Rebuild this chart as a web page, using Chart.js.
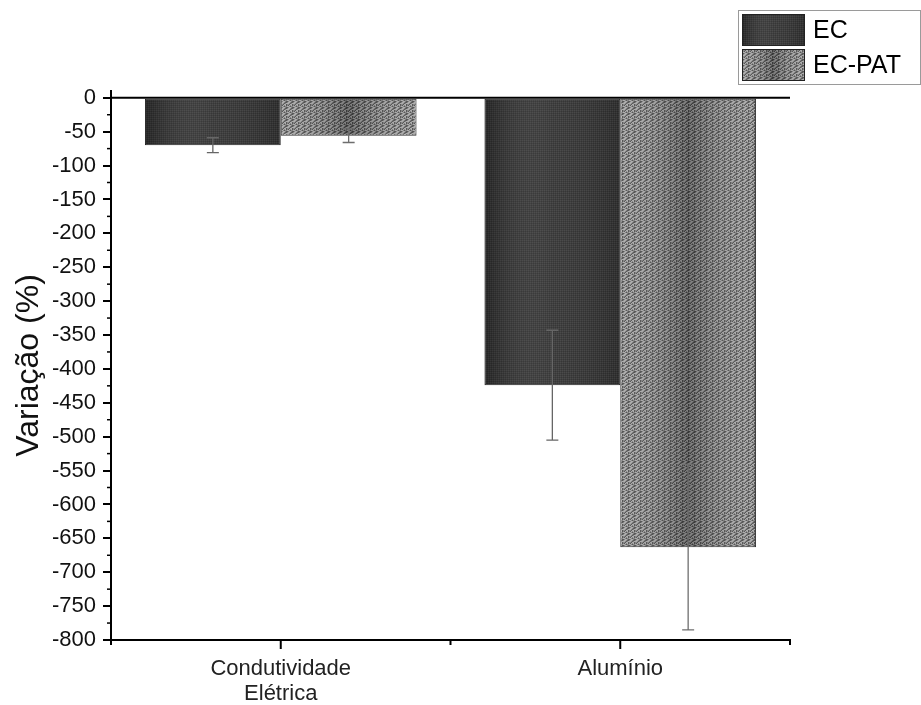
<!DOCTYPE html>
<html>
<head>
<meta charset="utf-8">
<script src="https://cdn.jsdelivr.net/npm/chart.js@4"></script>
<style>
  html, body { margin: 0; padding: 0; background: #fff; }
  canvas { display: block; }
</style>
</head>
<body>
<canvas id="c" width="921" height="705"></canvas>
<script>
// Categories and series
const categories = [['Condutividade', 'Elétrica'], 'Alumínio'];
const seriesNames = ['EC', 'EC-PAT'];
const ecValues = [-70, -424];
const ecErrors = [11, 81];
const ecPatValues = [-56, -663];
const ecPatErrors = [10, 122];
const yTickStep = 50;
const yMinorStep = 25;
const yMin = -800;
const yMax = 10;

const FONT = '"Liberation Sans", Arial, sans-serif';
const canvas = document.getElementById('c');
const ctx = canvas.getContext('2d');

// Stipple textures for the bar fills: rows of a small tile, '.' base, 'd' dark, 'l' light
function makeTexture(rows, colors) {
  const h = rows.length, w = rows[0].length;
  const t = document.createElement('canvas');
  t.width = w; t.height = h;
  const g = t.getContext('2d');
  for (let y = 0; y < h; y++) {
    for (let x = 0; x < w; x++) {
      g.fillStyle = colors[rows[y][x]];
      g.fillRect(x, y, 1, 1);
    }
  }
  return ctx.createPattern(t, 'repeat');
}
const ecFill = makeTexture(
  ['l.l.', '.d.d', 'l.l.', '.d.d'],
  { '.': '#363636', d: '#2c2c2c', l: '#424242' }
);
const patFill = makeTexture(
  ['ll.dd.', 'l.d.ll', '.dlld.', 'dl.ld.', 'l.d..l', '.ll.dd'],
  { '.': '#7c7c7c', d: '#4c4c4c', l: '#a9a9a9' }
);

// Horizontal shading laid over each bar
function shade(c, x0, x1, kind) {
  const g = c.createLinearGradient(x0, 0, x1, 0);
  if (kind === 0) {
    g.addColorStop(0, 'rgba(0,0,0,0.25)');
    g.addColorStop(0.5, 'rgba(255,255,255,0.05)');
    g.addColorStop(1, 'rgba(0,0,0,0.10)');
  } else {
    g.addColorStop(0, 'rgba(255,255,255,0.06)');
    g.addColorStop(0.5, 'rgba(0,0,0,0.28)');
    g.addColorStop(1, 'rgba(255,255,255,0.06)');
  }
  return g;
}

const errorSets = [ecErrors, ecPatErrors];

const decorPlugin = {
  id: 'decor',
  afterDatasetsDraw(chart) {
    const c = chart.ctx;
    const ys = chart.scales.y;
    const xs = chart.scales.x;
    const area = chart.chartArea;
    c.save();
    // bar shading
    chart.data.datasets.forEach((ds, di) => {
      chart.getDatasetMeta(di).data.forEach(el => {
        const x0 = el.x - el.width / 2 + 1, x1 = el.x + el.width / 2 - 1;
        const top = Math.min(el.y, el.base) + 1, bot = Math.max(el.y, el.base) - 1;
        c.fillStyle = shade(c, x0, x1, di);
        c.fillRect(x0, top, x1 - x0, bot - top);
      });
    });
    // zero line
    const y0 = ys.getPixelForValue(0);
    c.strokeStyle = '#000';
    c.lineWidth = 2;
    c.beginPath();
    c.moveTo(area.left, y0);
    c.lineTo(area.right, y0);
    c.stroke();
    // error bars
    chart.data.datasets.forEach((ds, di) => {
      chart.getDatasetMeta(di).data.forEach((el, i) => {
        const v = ds.data[i], e = errorSets[di][i];
        const yt = ys.getPixelForValue(v + e), yb = ys.getPixelForValue(v - e);
        c.strokeStyle = di === 0 ? '#666' : '#6e6e6e';
        c.lineWidth = 1.3;
        c.beginPath();
        c.moveTo(el.x, yt); c.lineTo(el.x, yb);
        c.moveTo(el.x - 6, yt); c.lineTo(el.x + 6, yt);
        c.moveTo(el.x - 6, yb); c.lineTo(el.x + 6, yb);
        c.stroke();
      });
    });
    // minor y ticks
    c.strokeStyle = '#000';
    c.lineWidth = 1.5;
    for (let v = yMin + yMinorStep; v < 0; v += yTickStep) {
      const py = ys.getPixelForValue(v);
      c.beginPath(); c.moveTo(area.left - 4, py); c.lineTo(area.left, py); c.stroke();
    }
    // x ticks: category centres (long) and boundaries (short)
    c.lineWidth = 2;
    const n = chart.data.labels.length;
    const step = n > 1 ? xs.getPixelForValue(1) - xs.getPixelForValue(0) : area.right - area.left;
    for (let i = 0; i < n; i++) {
      const px = xs.getPixelForValue(i);
      c.beginPath(); c.moveTo(px, area.bottom); c.lineTo(px, area.bottom + 9); c.stroke();
    }
    for (let i = 0; i <= n; i++) {
      const px = xs.getPixelForValue(0) - step / 2 + i * step;
      c.beginPath(); c.moveTo(px, area.bottom); c.lineTo(px, area.bottom + 5); c.stroke();
    }
    // legend
    const lx = 738, ly = 10, lw = 183, lh = 75;
    c.fillStyle = '#fff';
    c.fillRect(lx, ly, lw, lh);
    c.strokeStyle = '#9a9a9a';
    c.lineWidth = 1;
    c.strokeRect(lx + 0.5, ly + 0.5, lw - 1, lh - 1);
    const fills = [ecFill, patFill];
    seriesNames.forEach((name, i) => {
      const sx = 742, sy = 14 + i * 35, sw = 63, sh = 32;
      c.fillStyle = fills[i];
      c.fillRect(sx, sy, sw, sh);
      c.fillStyle = shade(c, sx, sx + sw, i);
      c.fillRect(sx, sy, sw, sh);
      c.strokeStyle = '#222';
      c.strokeRect(sx + 0.5, sy + 0.5, sw - 1, sh - 1);
      c.fillStyle = '#000';
      c.font = '25px ' + FONT;
      c.textBaseline = 'middle';
      c.textAlign = 'left';
      c.fillText(name, 813, sy + sh / 2 + 1);
    });
    c.restore();
  }
};

new Chart(ctx, {
  type: 'bar',
  data: {
    labels: categories,
    datasets: [
      { label: seriesNames[0], data: ecValues, backgroundColor: ecFill, borderColor: '#222', borderWidth: 1, borderSkipped: false },
      { label: seriesNames[1], data: ecPatValues, backgroundColor: patFill, borderColor: '#333', borderWidth: 1, borderSkipped: false }
    ]
  },
  options: {
    responsive: false,
    animation: false,
    events: [],
    layout: { padding: { left: 0, right: 131, top: 91, bottom: 0 } },
    plugins: { legend: { display: false }, tooltip: { enabled: false } },
    datasets: { bar: { categoryPercentage: 0.8, barPercentage: 1.0 } },
    scales: {
      x: {
        grid: { display: false },
        border: { display: true, color: '#000', width: 2 },
        ticks: {
          color: '#222',
          font: { family: FONT, size: 22, lineHeight: 1.15 },
          padding: 8,
          maxRotation: 0
        },
        afterFit(scale) { scale.height = 65; }
      },
      y: {
        min: yMin,
        max: yMax,
        afterBuildTicks(scale) {
          const t = [];
          for (let v = yMin; v <= 0; v += yTickStep) t.push({ value: v });
          scale.ticks = t;
        },
        grid: { drawOnChartArea: false, drawTicks: true, tickLength: 8, color: '#000', lineWidth: 2 },
        border: { display: true, color: '#000', width: 2 },
        ticks: {
          color: '#111',
          font: { family: FONT, size: 22 },
          padding: 7,
          callback: v => String(v)
        },
        title: {
          display: true,
          text: 'Variação (%)',
          color: '#111',
          font: { family: FONT, size: 32 },
          padding: { top: 10, bottom: 2 }
        },
        afterFit(scale) { scale.width = 111; }
      }
    }
  },
  plugins: [decorPlugin]
});
</script>
</body>
</html>
